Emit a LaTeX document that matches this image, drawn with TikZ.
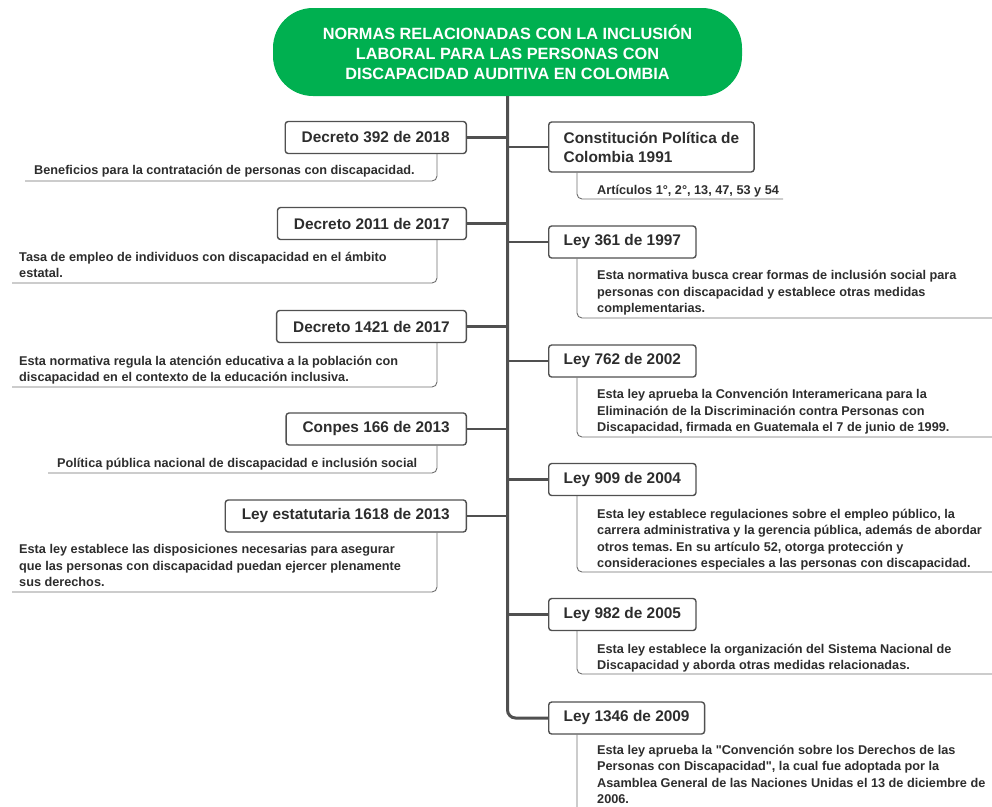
\documentclass[tikz,border=0pt]{standalone}
\usepackage{fontspec}
\setmainfont{Liberation Sans}
\usetikzlibrary{calc}
\definecolor{tgreen}{RGB}{0,176,80}
\definecolor{ink}{RGB}{45,45,45}
\definecolor{edge}{RGB}{80,80,80}
\definecolor{thin}{RGB}{110,110,110}
\begin{document}
\frenchspacing
\begin{tikzpicture}[x=1pt,y=-1pt,
 lbox/.style={draw=edge, line width=1.4pt, rounded corners=3pt, fill=white,
   font=\fontsize{15.4}{19}\selectfont\bfseries, text=ink, inner xsep=16.5pt,
   minimum height=32pt, anchor=east},
 rbox/.style={lbox, anchor=west, inner xsep=15pt},
 desc/.style={font=\fontsize{12.7}{16.3}\selectfont\bfseries, text=ink, align=left,
   inner sep=0pt, anchor=base west},
 spine/.style={draw=edge, line width=3pt},
 branch/.style={draw=edge, line width=2.5pt},
 dline/.style={draw=thin, line width=0.9pt, rounded corners=5pt}]
\useasboundingbox (0,0) rectangle (992,806);
\clip (0,0) rectangle (992,806);

\node[fill=tgreen, rounded corners=40pt, minimum width=469pt, minimum height=88pt,
  text=white, font=\fontsize{16.3}{20}\selectfont\bfseries, align=center]
  (title) at (507.5,52) {NORMAS RELACIONADAS CON LA INCLUSIÓN\\LABORAL PARA LAS PERSONAS CON\\DISCAPACIDAD AUDITIVA EN COLOMBIA};

% left boxes
\node[lbox] (L1) at (467,137.5) {Decreto 392 de 2018};
\node[lbox] (L2) at (467,223.5) {Decreto 2011 de 2017};
\node[lbox] (L3) at (467,326.5) {Decreto 1421 de 2017};
\node[lbox] (L4) at (467,429) {Conpes 166 de 2013};
\node[lbox] (L5) at (467,516) {Ley estatutaria 1618 de 2013};

% right boxes
\node[rbox, align=left, minimum height=50pt] (R1) at (548,147) {Constitución Política de\\Colombia 1991};
\node[rbox] (R2) at (548,242) {Ley 361 de 1997};
\node[rbox] (R3) at (548,361) {Ley 762 de 2002};
\node[rbox] (R4) at (548,479.5) {Ley 909 de 2004};
\node[rbox] (R5) at (548,614.5) {Ley 982 de 2005};
\node[rbox] (R6) at (548,718) {Ley 1346 de 2009};

% spine and branches
\draw[spine, rounded corners=8pt] (title.south) |- (R6.west);
\foreach \n in {L1,L2,L3,L4,L5}{\draw[branch] (\n.east) -- (\n.east -| title.south);}
\foreach \n in {R1,R2,R3,R4,R5}{\draw[branch] (\n.west -| title.south) -- (\n.west);}

% descriptions left (anchor = baseline of the last line)
\node[desc] (D1) at (34,174.5) {Beneficios para la contratación de personas con discapacidad.};
\node[desc] (D2) at (19,277.5) {Tasa de empleo de individuos con discapacidad en el ámbito\\estatal.};
\node[desc] (D3) at (19,381.5) {Esta normativa regula la atención educativa a la población con\\discapacidad en el contexto de la educación inclusiva.};
\node[desc] (D4) at (57,467.5) {Política pública nacional de discapacidad e inclusión social};
\node[desc] (D5) at (19,586.5) {Esta ley establece las disposiciones necesarias para asegurar\\que las personas con discapacidad puedan ejercer plenamente\\sus derechos.};

\coordinate (U1) at (25,181);
\coordinate (U2) at (12,283);
\coordinate (U3) at (12,387);
\coordinate (U4) at (48,473);
\coordinate (U5) at (12,592);
\draw[dline] ([xshift=-30pt]L1.south east) |- (U1);
\draw[dline] ([xshift=-30pt]L2.south east) |- (U2);
\draw[dline] ([xshift=-30pt]L3.south east) |- (U3);
\draw[dline] ([xshift=-30pt]L4.south east) |- (U4);
\draw[dline] ([xshift=-30pt]L5.south east) |- (U5);

% descriptions right
\node[desc] (E1) at (597,194.5) {Artículos 1°, 2°, 13, 47, 53 y 54};
\node[desc] (E2) at (597,312.5) {Esta normativa busca crear formas de inclusión social para\\personas con discapacidad y establece otras medidas\\complementarias.};
\node[desc] (E3) at (597,431.5) {Esta ley aprueba la Convención Interamericana para la\\Eliminación de la Discriminación contra Personas con\\Discapacidad, firmada en Guatemala el 7 de junio de 1999.};
\node[desc] (E4) at (597,567.5) {Esta ley establece regulaciones sobre el empleo público, la\\carrera administrativa y la gerencia pública, además de abordar\\otros temas. En su artículo 52, otorga protección y\\consideraciones especiales a las personas con discapacidad.};
\node[desc] (E5) at (597,669.5) {Esta ley establece la organización del Sistema Nacional de\\Discapacidad y aborda otras medidas relacionadas.};
\node[desc] (E6) at (597,803.5) {Esta ley aprueba la \textquotedbl Convención sobre los Derechos de las\\Personas con Discapacidad\textquotedbl, la cual fue adoptada por la\\Asamblea General de las Naciones Unidas el 13 de diciembre de\\2006.};

\coordinate (V1) at (783,199);
\coordinate (V2) at (995,318);
\coordinate (V3) at (995,437);
\coordinate (V4) at (995,572);
\coordinate (V5) at (995,674);
\coordinate (V6) at (995,812);
\draw[dline] ([xshift=29pt]R1.south west) |- (V1);
\draw[dline] ([xshift=29pt]R2.south west) |- (V2);
\draw[dline] ([xshift=29pt]R3.south west) |- (V3);
\draw[dline] ([xshift=29pt]R4.south west) |- (V4);
\draw[dline] ([xshift=29pt]R5.south west) |- (V5);
\draw[dline] ([xshift=29pt]R6.south west) |- (V6);
\end{tikzpicture}
\end{document}
